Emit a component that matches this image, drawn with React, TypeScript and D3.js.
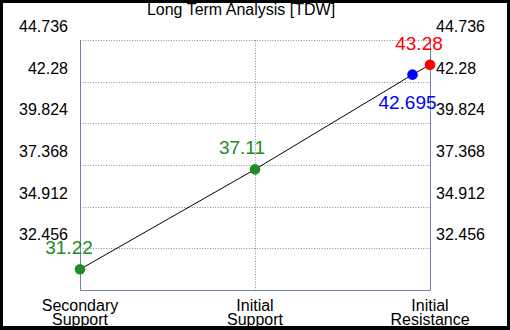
import { useEffect, useRef } from "react";
import * as d3 from "d3";

const categories = ["Secondary\nSupport", "Initial\nSupport", "Initial\nResistance"];
const yTicks = [32.456, 34.912, 37.368, 39.824, 42.28, 44.736];
const yMin = 30;
const yMax = 44.736;
// x position (in category units), value, colour
const pointX = [0, 1, 1.9, 2];
const pointValues = [31.22, 37.11, 42.695, 43.28];
const pointColors = ["#228b22", "#228b22", "#0000ff", "#ff0000"];
const title = "Long Term Analysis [TDW]";

export default function App() {
  const ref = useRef<SVGSVGElement | null>(null);

  useEffect(() => {
    const width = 510;
    const height = 330;
    const margin = { top: 40, right: 80, bottom: 40, left: 80 };
    const svg = d3.select(ref.current);
    svg.selectAll("*").remove();
    const font = "'Liberation Sans', Arial, sans-serif";

    svg.append("rect").attr("width", width).attr("height", height).attr("fill", "#000");
    svg.append("rect").attr("x", 3).attr("y", 3).attr("width", width - 6).attr("height", height - 7).attr("fill", "#fff");

    const x = d3.scaleLinear().domain([0, 2]).range([margin.left, width - margin.right]);
    const y = d3.scaleLinear().domain([yMin, yMax]).range([height - margin.bottom, margin.top]);

    const gridColor = "#7d8db0";
    const axisColor = "#7083a6";

    // horizontal grid
    svg.append("g")
      .selectAll("line")
      .data(yTicks)
      .enter()
      .append("line")
      .attr("x1", x(0))
      .attr("x2", x(2))
      .attr("y1", d => Math.round(y(d)) + 0.5)
      .attr("y2", d => Math.round(y(d)) + 0.5)
      .attr("stroke", gridColor)
      .attr("stroke-dasharray", "1,1.6");

    // vertical grid at middle category
    svg.append("line")
      .attr("x1", Math.round(x(1)) + 0.5)
      .attr("x2", Math.round(x(1)) + 0.5)
      .attr("y1", y(yMax))
      .attr("y2", y(yMin))
      .attr("stroke", gridColor)
      .attr("stroke-dasharray", "1,1.6");

    // axis frame
    const left = Math.round(x(0)) + 0.5;
    const right = Math.round(x(2)) + 0.5;
    const bottom = Math.round(y(yMin)) + 0.5;
    svg.append("path")
      .attr("d", `M${left},${y(yMax)}V${bottom}H${right}V${y(yMax)}`)
      .attr("fill", "none")
      .attr("stroke", axisColor);

    // tick labels both sides
    svg.append("g")
      .selectAll("text")
      .data(yTicks)
      .enter()
      .append("text")
      .attr("x", x(0) - 12)
      .attr("y", d => y(d) - 8)
      .attr("text-anchor", "end")
      .attr("font-family", font)
      .attr("font-size", 16)
      .attr("fill", "#000")
      .text(d => String(d));

    svg.append("g")
      .selectAll("text")
      .data(yTicks)
      .enter()
      .append("text")
      .attr("x", x(2) + 6)
      .attr("y", d => y(d) - 8)
      .attr("font-family", font)
      .attr("font-size", 16)
      .attr("fill", "#000")
      .text(d => String(d));

    // category labels
    categories.forEach((c, i) => {
      const t = svg.append("text")
        .attr("text-anchor", "middle")
        .attr("font-family", font)
        .attr("font-size", 16)
        .attr("fill", "#000");
      c.split("\n").forEach((line, j) => {
        t.append("tspan").attr("x", x(i)).attr("y", 311 + j * 14).text(line);
      });
    });

    // line
    const pts = pointX.map((px, i) => [px, pointValues[i]] as [number, number]);
    svg.append("path")
      .datum(pts)
      .attr("d", d3.line<[number, number]>().x(d => x(d[0])).y(d => y(d[1])))
      .attr("fill", "none")
      .attr("stroke", "#000")
      .attr("stroke-width", 1);

    svg.append("g")
      .selectAll("circle")
      .data(pts)
      .enter()
      .append("circle")
      .attr("cx", d => x(d[0]))
      .attr("cy", d => y(d[1]))
      .attr("r", 5.3)
      .attr("fill", (d, i) => pointColors[i]);

    // value labels
    const labelDx = [-11, -13, -5, -11];
    const labelDy = [-15, -15, 34, -15];
    svg.append("g")
      .selectAll("text")
      .data(pts)
      .enter()
      .append("text")
      .attr("x", (d, i) => x(d[0]) + labelDx[i])
      .attr("y", (d, i) => y(d[1]) + labelDy[i])
      .attr("text-anchor", "middle")
      .attr("font-family", font)
      .attr("font-size", 19)
      .attr("fill", (d, i) => pointColors[i])
      .text((d, i) => String(pointValues[i]));

    svg.append("text")
      .attr("x", 241)
      .attr("y", 15)
      .attr("text-anchor", "middle")
      .attr("font-family", font)
      .attr("font-size", 16)
      .attr("fill", "#000")
      .text(title);
  }, []);

  return (
    <svg
      ref={ref}
      width={510}
      height={330}
      style={{ position: "absolute", left: 0, top: 0 }}
    />
  );
}
